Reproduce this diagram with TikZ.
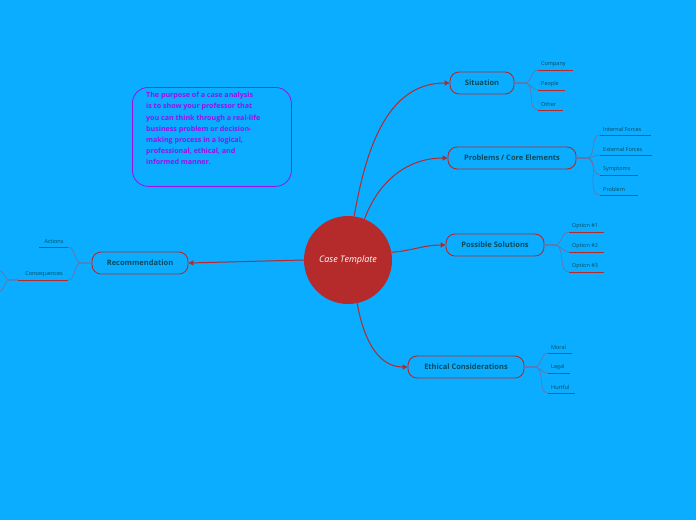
\documentclass[tikz,border=0pt]{standalone}
\usepackage{fontspec}
\setmainfont{Open Sans}
\usetikzlibrary{arrows.meta}
\definecolor{bg}{HTML}{0AADFF}
\definecolor{rd}{HTML}{B52A2A}
\definecolor{tx}{HTML}{0B4A5A}
\definecolor{pu}{HTML}{9A10E8}
\definecolor{br}{HTML}{7A6A9A}
\tikzset{
 topic/.style={draw=rd,line width=0.9pt,rounded corners=9pt,minimum height=22pt,text=tx,font=\bfseries\fontsize{7.5}{9}\selectfont,inner sep=0pt},
 main/.style={draw=rd,line width=1pt,-{Triangle[length=5pt,width=5pt]}},
 leaf/.style={text=tx,font=\fontsize{5.5}{6}\selectfont,anchor=south west,inner sep=1pt},
 uline/.style={draw=rd,line width=1pt},
 br/.style={draw=br,line width=0.6pt},
}
\begin{document}
\begin{tikzpicture}[x=1pt,y=-1pt]
\fill[bg] (0,0) rectangle (696,520);
\useasboundingbox (0,0) rectangle (696,520);
\node[circle,fill=rd,minimum size=88pt,text=white,font=\itshape\fontsize{9}{10}\selectfont] (c) at (348,260) {Case Template};
\node[topic,minimum width=64pt] (sit) at (482,83) {Situation};
\node[topic,minimum width=128pt] (pro) at (512,158) {Problems / Core Elements};
\node[topic,minimum width=98pt] (sol) at (495,245) {Possible Solutions};
\node[topic,minimum width=116pt] (eth) at (466,367) {Ethical Considerations};
\node[topic,minimum width=96pt] (rec) at (140,263) {Recommendation};
\node[draw=pu,line width=0.8pt,rounded corners=16pt,minimum width=159pt,minimum height=99pt,anchor=north west,inner sep=0pt] (purp) at (132,87) {};
\node[text=pu,align=left,anchor=north west,font=\bfseries\fontsize{7.1}{11.2}\selectfont,inner sep=0pt] (ptext) at (146,92) {The purpose of a case analysis\\is to show your professor that\\you can think through a real-life\\business problem or decision-\\making process in a logical,\\professional, ethical, and\\informed manner.};
\draw[main] (c.82) to[out=80,in=180] (sit.west);
\draw[main] (c.68) to[out=70,in=180] (pro.west);
\draw[main] (c.10) to[out=5,in=180] (sol.west);
\draw[main] (c.-78) to[out=-80,in=180] (eth.west);
\draw[main] (c.west) -- (rec.east);
% leaves
\foreach \nm/\pa/\x/\y/\l/\t in {
 a1/sit/538/70/35/Company, a2/sit/538/90/27/People, a3/sit/538/110/25/Other,
 b1/pro/600/135/51/Internal Forces, b2/pro/600/155/52/External Forces, b3/pro/600/175/38/Symptoms, b4/pro/600/195/38/Problem,
 c1/sol/569/232/35/Option \#1, c2/sol/569/252/35/Option \#2, c3/sol/569/272/35/Option \#3,
 d1/eth/548/353/24/Moral, d2/eth/548/373/22/Legal, d3/eth/548/393/27/Hurtful}{
 \coordinate (\nm s) at (\x,\y);
 \coordinate (\nm e) at (\x+\l,\y);
 \draw[uline] (\nm s) -- (\nm e);
 \node[leaf] (\nm t) at (\x+2,\y-2) {\t};
 \draw[br] (\pa.east) -- ++(10,0) to[out=0,in=180] (\nm s);
}
\coordinate (r1s) at (68,247); \coordinate (r1e) at (39,247);
\coordinate (r2s) at (68,280); \coordinate (r2e) at (18,280);
\draw[uline] (r1s) -- (r1e); \draw[uline] (r2s) -- (r2e);
\node[leaf,anchor=south] (r1t) at (54,245) {Actions};
\node[leaf,anchor=south] (r2t) at (44,278) {Consequences};
\draw[br] (rec.west) -- ++(-10,0) to[out=180,in=0] (r1s);
\draw[br] (rec.west) -- ++(-10,0) to[out=180,in=0] (r2s);
\coordinate (o1) at (-2,270); \coordinate (o2) at (-2,292);
\draw[br] (r2e) -- ++(-8,0) to[out=180,in=0] (o1);
\draw[br] (r2e) -- ++(-8,0) to[out=180,in=0] (o2);
\end{tikzpicture}
\end{document}
